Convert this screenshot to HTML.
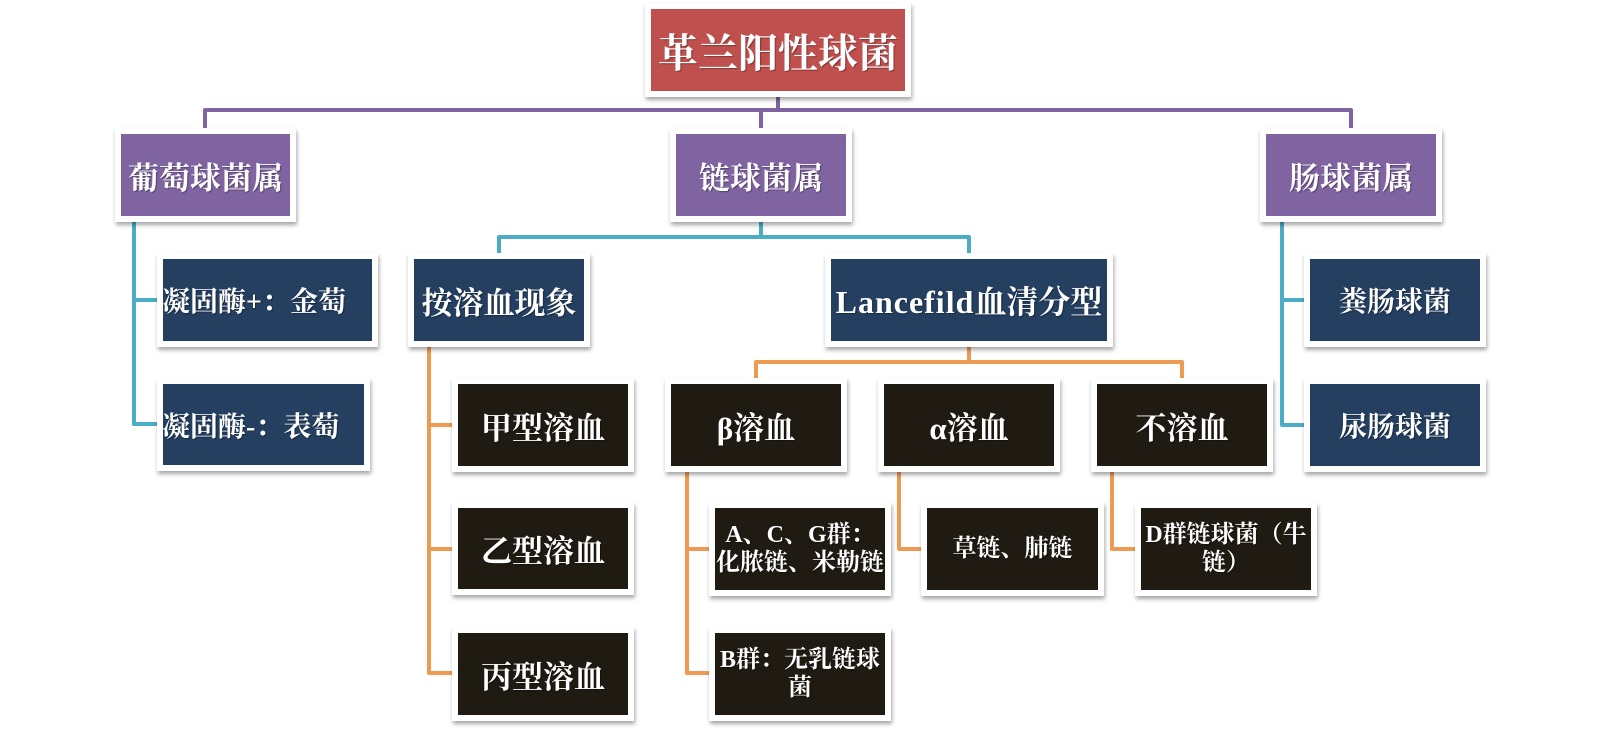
<!DOCTYPE html>
<html>
<head>
<meta charset="utf-8">
<style>
  html,body{margin:0;padding:0;background:#fff;}
  body{width:1599px;height:730px;position:relative;overflow:hidden;
       font-family:"Liberation Serif","Noto Serif CJK SC",serif;font-weight:bold;}
  svg.lines{position:absolute;left:0;top:0;z-index:0;}
  .b{position:absolute;box-sizing:content-box;border:6px solid #fff;
     box-shadow:1px 3px 4px rgba(0,0,0,0.35);z-index:1;
     display:flex;align-items:center;justify-content:center;text-align:center;
     color:#fff;white-space:nowrap;
     text-shadow:1px 1px 1px rgba(0,0,0,0.35);}
  .red{background:#C0504D;}
  .pur{background:#8064A2;}
  .nav{background:#243F60;}
  .blk{background:#1F1B12;}
  .f40{font-size:40px;}
  .f31{font-size:31px;}
  .f28{font-size:28px;}
  .f24{font-size:24px;line-height:28px;}
  .lt{justify-content:flex-start;}
</style>
</head>
<body>
<svg class="lines" width="1599" height="730" viewBox="0 0 1599 730" fill="none" stroke-width="4" stroke-linejoin="round" stroke-linecap="butt">
  <!-- purple -->
  <g stroke="#8064A2">
    <path d="M778,91 V110"/>
    <path d="M205,136 V110 H1351 V136"/>
    <path d="M761,110 V136"/>
  </g>
  <!-- teal -->
  <g stroke="#4BACC6">
    <path d="M134,216 V424 H163"/>
    <path d="M134,300 H163"/>
    <path d="M761,216 V237"/>
    <path d="M499,259 V237 H969 V259"/>
    <path d="M1282,216 V425 H1310"/>
    <path d="M1282,300 H1310"/>
  </g>
  <!-- orange -->
  <g stroke="#EE9A52">
    <path d="M429,341 V673 H458"/>
    <path d="M429,425 H458"/>
    <path d="M429,549 H458"/>
    <path d="M969,341 V362"/>
    <path d="M756,384 V362 H1182 V384"/>
    <path d="M687,466 V673 H715"/>
    <path d="M687,549 H715"/>
    <path d="M899,466 V549 H927"/>
    <path d="M1112,466 V549 H1141"/>
  </g>
</svg>

<!-- root -->
<div class="b red f40" style="left:645px;top:3px;width:254px;height:82px;">革兰阳性球菌</div>

<!-- level 1 -->
<div class="b pur f31" style="left:115px;top:128px;width:169px;height:82px;">葡萄球菌属</div>
<div class="b pur f31" style="left:670px;top:128px;width:170px;height:82px;">链球菌属</div>
<div class="b pur f31" style="left:1260px;top:128px;width:170px;height:82px;">肠球菌属</div>

<!-- level 2 -->
<div class="b nav f28 lt" style="left:157px;top:253px;width:209px;height:82px;"><span style="margin-left:-1px">凝固酶+：金萄</span></div>
<div class="b nav f28 lt" style="left:157px;top:378px;width:201px;height:81px;"><span style="margin-left:-1px">凝固酶-：表萄</span></div>
<div class="b nav f31" style="left:408px;top:253px;width:170px;height:82px;">按溶血现象</div>
<div class="b nav" style="left:825px;top:253px;width:276px;height:82px;font-size:32px;"><span><span style="letter-spacing:1px">Lancefild</span>血清分型</span></div>
<div class="b nav f28" style="left:1304px;top:253px;width:170px;height:82px;">粪肠球菌</div>
<div class="b nav f28" style="left:1304px;top:378px;width:170px;height:82px;">尿肠球菌</div>

<!-- level 3 -->
<div class="b blk f31" style="left:452px;top:378px;width:170px;height:82px;">甲型溶血</div>
<div class="b blk f31" style="left:452px;top:502px;width:170px;height:81px;">乙型溶血</div>
<div class="b blk f31" style="left:452px;top:627px;width:170px;height:82px;">丙型溶血</div>

<div class="b blk f31" style="left:665px;top:378px;width:170px;height:82px;">β溶血</div>
<div class="b blk f31" style="left:878px;top:378px;width:170px;height:82px;">α溶血</div>
<div class="b blk f31" style="left:1091px;top:378px;width:170px;height:82px;">不溶血</div>

<!-- level 4 -->
<div class="b blk f24" style="left:709px;top:502px;width:170px;height:82px;"><span>A、C、G群：<br>化脓链、米勒链</span></div>
<div class="b blk f24" style="left:709px;top:627px;width:170px;height:82px;"><span>B群：无乳链球<br>菌</span></div>
<div class="b blk f24" style="left:921px;top:502px;width:171px;height:82px;"><span>草链、肺链</span></div>
<div class="b blk f24" style="left:1135px;top:502px;width:170px;height:82px;"><span>D群链球菌（牛<br>链）</span></div>

</body>
</html>
